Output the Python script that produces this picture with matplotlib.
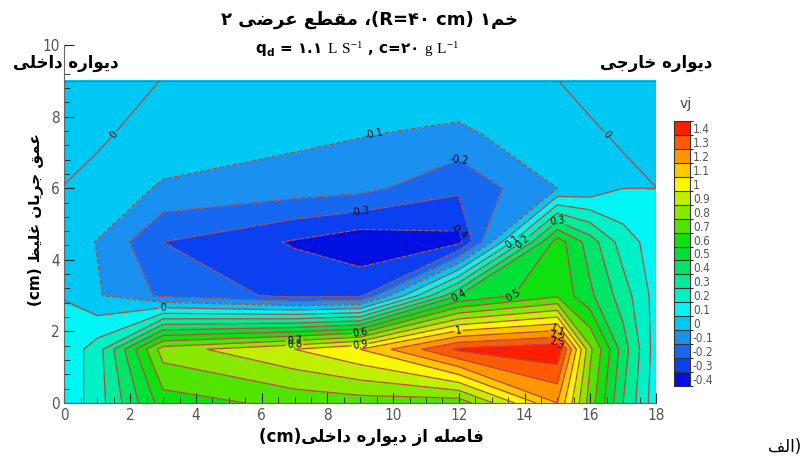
import re

import matplotlib
matplotlib.use("Agg")
import matplotlib.pyplot as plt
import numpy as np
from matplotlib import font_manager
from matplotlib.cm import ScalarMappable
from matplotlib.colors import BoundaryNorm, ListedColormap
from matplotlib.ticker import FixedLocator, MultipleLocator

# measurement grid (cm)
X_CM = [0, 1, 3, 7, 9, 12, 15, 16, 17, 18]
Y_CM = [0, 1.5, 3, 4.5, 6, 7.5, 9]

# vj, one list per depth (bottom -> top)
VJ_Y0 = [0.03, 0.15, 0.55, 0.63, 0.65, 0.64, 1.10, 0.65, 0.30, 0.04]
VJ_Y1_5 = [0.03, 0.15, 0.75, 0.90, 1.00, 1.32, 1.38, 0.72, 0.35, 0.05]
VJ_Y3 = [-0.003, -0.09, -0.22, -0.33, -0.32, 0.40, 0.58, 0.42, 0.25, 0.06]
VJ_Y4_5 = [-0.04, -0.105, -0.30, -0.41, -0.47, -0.43, 0.55, 0.35, 0.15, 0.05]
VJ_Y6 = [-0.00004, -0.0008, -0.12, -0.15, -0.17, -0.28, -0.10, -0.07, -0.0008, -0.00001]
VJ_Y7_5 = [0.0005, 0.0004, -0.0012, -0.075, -0.095, -0.13, -0.004, -0.0004, 0.0004, 0.0005]
VJ_Y9 = [0.0005, 0.0005, -0.00003, -0.01, -0.01, -0.003, -0.00003, 0.0008, 0.0005, 0.0005]

LEVELS = [-0.4, -0.3, -0.2, -0.1, 0, 0.1, 0.2, 0.3, 0.4, 0.5, 0.6, 0.7,
          0.8, 0.9, 1, 1.1, 1.2, 1.3, 1.4]
LEVEL_COLORS = ["#0010e0", "#0a40f0", "#1668f0", "#1a90f0", "#00c8f5",
                "#00f5f5", "#00f0c8", "#00ec98", "#00e468", "#00e038",
                "#10e010", "#50e400", "#88e800", "#c0f000", "#f8f800",
                "#ffc800", "#ff9600", "#ff5a00", "#ff1e00"]

TITLE_1 = "خم۱ (R=۴۰ cm)، مقطع عرضی ۲"
TITLE_2 = r"$\mathbf{q_d}$ = ۱.۱ $\mathrm{L\ S^{-1}}$ , c=۲۰ $\mathrm{g\ L^{-1}}$"
LEFT_WALL = "دیواره داخلی"
RIGHT_WALL = "دیواره خارجی"
X_LABEL = "فاصله از دیواره داخلی(cm)"
Y_LABEL = "عمق جریان غلیظ (cm)"
PANEL = "(الف"

# isolated, final, initial, medial presentation forms
FORMS = {
    "ا": ("\uFE8D", "\uFE8E", None, None),
    "د": ("\uFEA9", "\uFEAA", None, None),
    "ر": ("\uFEAD", "\uFEAE", None, None),
    "ز": ("\uFEAF", "\uFEB0", None, None),
    "و": ("\uFEED", "\uFEEE", None, None),
    "ج": ("\uFE9D", "\uFE9E", "\uFE9F", "\uFEA0"),
    "خ": ("\uFEA5", "\uFEA6", "\uFEA7", "\uFEA8"),
    "ص": ("\uFEB9", "\uFEBA", "\uFEBB", "\uFEBC"),
    "ض": ("\uFEBD", "\uFEBE", "\uFEBF", "\uFEC0"),
    "ط": ("\uFEC1", "\uFEC2", "\uFEC3", "\uFEC4"),
    "ظ": ("\uFEC5", "\uFEC6", "\uFEC7", "\uFEC8"),
    "ع": ("\uFEC9", "\uFECA", "\uFECB", "\uFECC"),
    "غ": ("\uFECD", "\uFECE", "\uFECF", "\uFED0"),
    "ف": ("\uFED1", "\uFED2", "\uFED3", "\uFED4"),
    "ق": ("\uFED5", "\uFED6", "\uFED7", "\uFED8"),
    "ل": ("\uFEDD", "\uFEDE", "\uFEDF", "\uFEE0"),
    "م": ("\uFEE1", "\uFEE2", "\uFEE3", "\uFEE4"),
    "ن": ("\uFEE5", "\uFEE6", "\uFEE7", "\uFEE8"),
    "ه": ("\uFEE9", "\uFEEA", "\uFEEB", "\uFEEC"),
    "ی": ("\uFEEF", "\uFEF0", "\uFEF3", "\uFEF4"),
}

LTR_RUN = re.compile(r"[A-Za-z0-9\u06F0-\u06F9](?:[A-Za-z0-9\u06F0-\u06F9=. ]*[A-Za-z0-9\u06F0-\u06F9])?")


def shape(text):
    out = []
    for i, ch in enumerate(text):
        if ch not in FORMS:
            out.append(ch)
            continue
        iso, fin, ini, med = FORMS[ch]
        prev = text[i - 1] if i > 0 else ""
        nxt = text[i + 1] if i + 1 < len(text) else ""
        join_prev = prev in FORMS and FORMS[prev][2] is not None
        join_next = ini is not None and nxt in FORMS
        if join_prev and join_next:
            out.append(med)
        elif join_prev:
            out.append(fin)
        elif join_next:
            out.append(ini)
        else:
            out.append(iso)
    return "".join(out)


def rtl(text):
    s = shape(text)[::-1]
    s = LTR_RUN.sub(lambda m: m.group(0)[::-1], s)
    return s.translate(str.maketrans("()", ")("))


def px(x, y):
    return x / 812, 1 - y / 471


plt.rcParams["font.family"] = ["DejaVu Sans"]
plt.rcParams["axes.unicode_minus"] = False
plt.rcParams["mathtext.fontset"] = "custom"
plt.rcParams["mathtext.rm"] = "Liberation Serif"
plt.rcParams["mathtext.bf"] = "DejaVu Sans:bold"

installed = {f.name for f in font_manager.fontManager.ttflist}
tick_font = "Liberation Sans Narrow" if "Liberation Sans Narrow" in installed else "DejaVu Sans"

z = np.array([VJ_Y0, VJ_Y1_5, VJ_Y3, VJ_Y4_5, VJ_Y6, VJ_Y7_5, VJ_Y9])
xx, yy = np.meshgrid(X_CM, Y_CM)

fig = plt.figure(figsize=(8.12, 4.71), dpi=100)
ax = fig.add_axes([64.5 / 812, 1 - 403 / 471, (656 - 64.5) / 812, (403 - 45) / 471])

# band (a, a+0.1] takes the colour of level a+0.1, as in the legend
fill_levels = [-1] + LEVELS[:4] + [0.002] + LEVELS[5:] + [2]
ax.contourf(xx, yy, z, levels=fill_levels, colors=LEVEL_COLORS + [LEVEL_COLORS[-1]])
cs = ax.contour(xx, yy, z, levels=LEVELS, colors="#b84a40", linewidths=0.9)
ax.clabel(cs, fmt="%g", fontsize=7, colors="black", inline=True, inline_spacing=1)

ax.plot([X_CM[0], X_CM[-1], X_CM[-1], X_CM[0], X_CM[0]],
        [Y_CM[0], Y_CM[0], Y_CM[-1], Y_CM[-1], Y_CM[0]], color="#666666", lw=0.8)

ax.set_xlim(0, 18)
ax.set_ylim(0, 10)
ax.spines["top"].set_visible(False)
ax.spines["right"].set_visible(False)
for side in ("left", "bottom"):
    ax.spines[side].set_color("#666666")
ax.xaxis.set_major_locator(MultipleLocator(2))
ax.xaxis.set_minor_locator(MultipleLocator(0.5))
ax.yaxis.set_major_locator(MultipleLocator(2))
ax.yaxis.set_minor_locator(FixedLocator(np.arange(0, 9.3, 0.4)))
ax.tick_params(which="both", direction="in", color="#222222")
ax.tick_params(which="major", length=7, labelsize=11, labelcolor="#555555")
ax.tick_params(which="minor", length=4)
for lab in ax.get_xticklabels() + ax.get_yticklabels():
    lab.set_fontfamily(tick_font)
    lab.set_fontstretch("condensed")

cax = fig.add_axes([674 / 812, 1 - 386 / 471, 16 / 812, 265 / 471])
bounds = [v - 0.05 for v in LEVELS] + [LEVELS[-1] + 0.05]
sm = ScalarMappable(norm=BoundaryNorm(bounds, len(LEVELS)), cmap=ListedColormap(LEVEL_COLORS))
cb = fig.colorbar(sm, cax=cax, ticks=LEVELS, drawedges=True)
cb.ax.set_yticklabels(["%g" % v for v in LEVELS])
cb.ax.tick_params(length=0, labelsize=8.5, labelcolor="#555555", pad=2)
cb.outline.set_edgecolor("#333333")
cb.dividers.set_color("#333333")
cb.dividers.set_linewidth(0.8)
for lab in cb.ax.get_yticklabels():
    lab.set_fontfamily(tick_font)
    lab.set_fontstretch("condensed")

fig.text(*px(686, 104), "vj", ha="center", va="center", fontsize=10, color="#444444")
fig.text(*px(370, 20), rtl(TITLE_1), ha="center", va="center", fontsize=13, fontweight="bold")
fig.text(*px(357, 50), TITLE_2, ha="center", va="center", fontsize=11, fontweight="bold")
fig.text(*px(66, 63), rtl(LEFT_WALL), ha="center", va="center", fontsize=12, fontweight="bold")
fig.text(*px(656, 63), rtl(RIGHT_WALL), ha="center", va="center", fontsize=12, fontweight="bold")
fig.text(*px(371, 437), rtl(X_LABEL), ha="center", va="center", fontsize=12, fontweight="bold")
fig.text(*px(35, 220), rtl(Y_LABEL), ha="center", va="center", rotation=90, fontsize=11, fontweight="bold")
fig.text(*px(785, 447), rtl(PANEL), ha="center", va="center", fontsize=12)

fig.savefig("out.png", dpi=100)
